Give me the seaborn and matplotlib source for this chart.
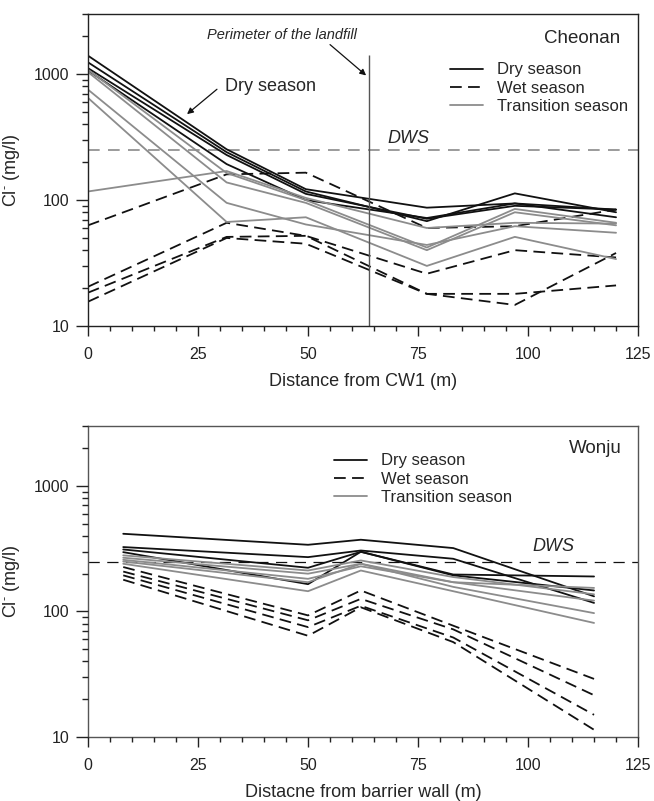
import matplotlib
matplotlib.use("Agg")
import matplotlib.pyplot as plt
from matplotlib import ticker
import numpy as np
import pandas as pd
import seaborn as sns

sns.set_theme(style="ticks")
plt.rcParams["font.family"] = ["Liberation Sans", "DejaVu Sans"]
plt.rcParams["mathtext.fontset"] = "custom"
plt.rcParams["mathtext.rm"] = "Liberation Sans"
plt.rcParams["mathtext.it"] = "Liberation Sans:italic"
plt.rcParams.update({
    "axes.edgecolor": "#222222", "axes.linewidth": 1.0, "axes.axisbelow": False,
    "xtick.major.size": 7, "xtick.minor.size": 3.5, "ytick.major.size": 8.5, "ytick.minor.size": 4.5,
    "xtick.major.width": 1, "xtick.minor.width": 1, "ytick.major.width": 1, "ytick.minor.width": 1,
    "xtick.color": "#222222", "ytick.color": "#222222", "xtick.direction": "out", "ytick.direction": "out",
    "xtick.labelsize": 11.5, "ytick.labelsize": 11.5, "xtick.major.pad": 8, "ytick.major.pad": 5,
})

SEASONS = ["Dry season", "Wet season", "Transition season"]
PALETTE = {"Dry season": "#111111", "Wet season": "#111111", "Transition season": "#8c8c8c"}
DASHES = {"Dry season": "", "Wet season": (6.5, 3.5), "Transition season": ""}

DWS = 250  # drinking water standard for Cl- (mg/l)

# Cheonan -- distance from CW1 (m)
cheonan_x = [0, 31.5, 49.5, 77, 97, 120]
cheonan_dry = [
    [1400, 253, 122, 87, 94, 84],
    [1240, 240, 117, 68, 113, 80],
    [1115, 228, 112, 71, 90, 84],
    [1070, 193, 100, 72, 94, 73],
]
cheonan_wet = [
    [63, 160, 165, 60, 62, 84],
    [20.5, 66, 52, 26, 40, 35],
    [18.4, 51, 52, 18, 18, 21],
    [15.6, 50, 45, 18, 14.7, 38],
]
cheonan_transition = [
    [117, 170, 104, 60, 66, 65],
    [1083, 164, 100, 42, 85, 66],
    [1037, 138, 95, 40, 80, 63],
    [753, 95, 64, 44, 62, 55],
    [647, 67, 73, 30, 51, 34],
]
perimeter_x = 63.9
perimeter_top = 1420

# Wonju -- distance from barrier wall (m)
wonju_x = [8, 50, 62, 83, 115]
wonju_dry = [
    [416, 340, 373, 320, 132],
    [326, 271, 306, 263, 117],
    [312, 223, 299, 197, 190],
    [297, 165, 299, 194, 147],
]
wonju_wet = [
    [226, 93, 147, 77, 29],
    [208, 85, 126, 72, 21.5],
    [194, 75, 111, 62, 15],
    [179, 64, 108, 57, 11.4],
]
wonju_transition = [
    [280, 212, 255, 188, 137],
    [268, 200, 240, 171, 154],
    [258, 182, 229, 171, 122],
    [250, 171, 240, 157, 97],
    [240, 145, 212, 145, 81],
]


def to_frame(x, dry, wet, transition):
    rows = []
    for season, lines in zip(SEASONS, [dry, wet, transition]):
        for i, ys in enumerate(lines):
            for xi, yi in zip(x, ys):
                rows.append({"distance": xi, "cl": yi, "season": season, "well": f"{season}-{i}"})
    return pd.DataFrame(rows)


def draw_panel(ax, df, legend_anchor):
    sns.lineplot(data=df, x="distance", y="cl", hue="season", style="season",
                 units="well", estimator=None, sort=False,
                 hue_order=SEASONS, style_order=SEASONS,
                 palette=PALETTE, dashes=DASHES, linewidth=1.3, ax=ax)
    ax.set_yscale("log")
    ax.set_xlim(0, 125); ax.set_ylim(10, 3000)
    ax.set_ylabel(r"Cl$^{\text{-}}$ (mg/l)", fontsize=13)
    ax.yaxis.set_label_coords(-0.12, 0.5)
    old = ax.get_legend()
    handles, labels = old.legend_handles, [t.get_text() for t in old.get_texts()]
    old.remove()
    ax.legend(handles, labels, loc="upper left", bbox_to_anchor=legend_anchor, frameon=False,
              fontsize=12, handlelength=2.0, handletextpad=0.8, labelspacing=0.2,
              borderpad=0, borderaxespad=0)


def style_ticks(ax):
    ax.set_axisbelow(False)
    ax.xaxis.set_major_locator(ticker.MultipleLocator(25))
    ax.xaxis.set_minor_locator(ticker.MultipleLocator(5))
    ax.yaxis.set_major_locator(ticker.LogLocator(base=10))
    ax.yaxis.set_minor_locator(ticker.LogLocator(base=10, subs=np.arange(2, 10), numticks=20))
    ax.yaxis.set_major_formatter(ticker.FuncFormatter(lambda v, p: f"{v:g}"))
    ax.yaxis.set_minor_formatter(ticker.NullFormatter())
    ax.tick_params(which="both", bottom=True, left=True, top=False, right=False)
    sizes = {(0, True): 7, (0, False): 3.5, (1, True): 8.5, (1, False): 4.5}
    for k, axis in enumerate((ax.xaxis, ax.yaxis)):
        for major, ticks in ((True, axis.get_major_ticks()), (False, axis.get_minor_ticks())):
            for t in ticks:
                ln = t.tick1line
                ln.set_visible(True)
                ln.set_clip_on(False)
                ln.set_markersize(sizes[(k, major)])
                ln.set_markeredgewidth(1.0)
                ln.set_markeredgecolor("#222222")
                ln.set_alpha(1)
                ln.set_zorder(5)


fig = plt.figure(figsize=(6.54, 8.01), dpi=100)
ax1 = fig.add_axes([0.1346, 0.593, 0.841, 0.3895])
ax2 = fig.add_axes([0.1346, 0.080, 0.841, 0.388])

# --- Cheonan ---
draw_panel(ax1, to_frame(cheonan_x, cheonan_dry, cheonan_wet, cheonan_transition), (0.658, 0.845))
ax1.axhline(DWS, color="#8a8a8a", lw=1.2, dashes=(7, 5), zorder=1)
ax1.vlines(perimeter_x, 10, perimeter_top, color="#555555", lw=1.0)
ax1.text(68, 310, "DWS", fontsize=13, style="italic", va="center")
ax1.text(0.967, 0.92, "Cheonan", transform=ax1.transAxes, fontsize=13.5, ha="right", va="center")
ax1.text(44.1, 2055, "Perimeter of the landfill", fontsize=10.5, style="italic", ha="center", va="center")
ax1.annotate("", xy=(63.2, 976), xytext=(55, 1715),
             arrowprops=dict(arrowstyle="-|>", color="#111111", lw=0.9, mutation_scale=9,
                             shrinkA=0, shrinkB=0))
ax1.text(31.1, 800, "Dry season", fontsize=13, ha="left", va="center")
ax1.annotate("", xy=(22.5, 481), xytext=(29.3, 758),
             arrowprops=dict(arrowstyle="-|>", color="#111111", lw=0.9, mutation_scale=9,
                             shrinkA=0, shrinkB=0))
ax1.set_xlabel("Distance from CW1 (m)", fontsize=13)
ax1.xaxis.set_label_coords(0.5, -0.15)

# --- Wonju ---
draw_panel(ax2, to_frame(wonju_x, wonju_dry, wonju_wet, wonju_transition), (0.447, 0.912))
for s in ax2.spines.values():
    s.set_edgecolor("#555555")
ax2.axhline(DWS, color="#111111", lw=0.9, dashes=(9, 6), zorder=1)
ax2.text(101, 328, "DWS", fontsize=13, style="italic", va="center")
ax2.text(0.971, 0.929, "Wonju", transform=ax2.transAxes, fontsize=13.5, ha="right", va="center")
ax2.set_xlabel("Distacne from barrier wall (m)", fontsize=13)
ax2.xaxis.set_label_coords(0.5, -0.152)

for ax in (ax1, ax2):
    style_ticks(ax)

fig.savefig("out.png", dpi=100)
